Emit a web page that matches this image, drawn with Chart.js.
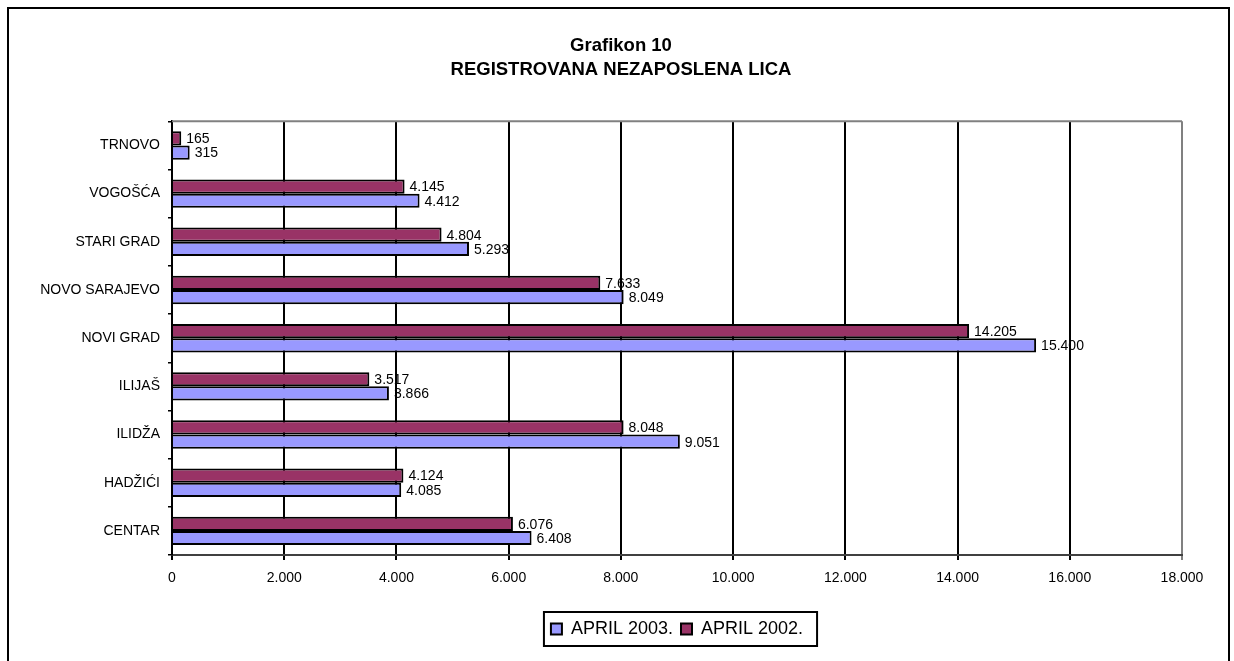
<!DOCTYPE html>
<html>
<head>
<meta charset="utf-8">
<script src="https://cdn.jsdelivr.net/npm/chart.js@4.4.1/dist/chart.umd.min.js"></script>
<style>
  html, body { margin: 0; padding: 0; background: #fff; }
  canvas { display: block; }
</style>
</head>
<body>
<canvas id="chart" width="1234" height="661"></canvas>
<script>
const municipalities = ["TRNOVO", "VOGOŠĆA", "STARI GRAD", "NOVO SARAJEVO", "NOVI GRAD", "ILIJAŠ", "ILIDŽA", "HADŽIĆI", "CENTAR"];
const april2002 = [165, 4145, 4804, 7633, 14205, 3517, 8048, 4124, 6076];
const april2003 = [315, 4412, 5293, 8049, 15400, 3866, 9051, 4085, 6408];
const titleLines = ["Grafikon 10", "REGISTROVANA NEZAPOSLENA LICA"];
const xMax = 18000;
const xStep = 2000;

const fmt = v => String(v).replace(/\B(?=(\d{3})+(?!\d))/g, ".");

Chart.defaults.font.family = "'Liberation Sans', Arial, sans-serif";
Chart.defaults.color = "#000";

// value written at the end of each bar
const valueLabels = {
  id: "valueLabels",
  afterDatasetsDraw(chart) {
    const ctx = chart.ctx;
    ctx.save();
    ctx.font = "14px 'Liberation Sans', Arial, sans-serif";
    ctx.fillStyle = "#000";
    ctx.textBaseline = "middle";
    chart.data.datasets.forEach((ds, i) => {
      chart.getDatasetMeta(i).data.forEach((bar, j) => {
        ctx.fillText(fmt(ds.data[j]), bar.x + 5, bar.y + 1);
      });
    });
    ctx.restore();
  }
};

// outer frame, top edge of the plot and the box round the legend
const framePlugin = {
  id: "frame",
  afterDraw(chart) {
    const ctx = chart.ctx;
    const area = chart.chartArea;
    ctx.save();
    ctx.lineWidth = 2;
    ctx.strokeStyle = "#000";
    ctx.strokeRect(8, 8, 1221, 700);
    ctx.strokeStyle = "#808080";
    ctx.beginPath();
    ctx.moveTo(area.left, area.top);
    ctx.lineTo(area.right, area.top);
    ctx.stroke();
    const boxes = chart.legend.legendHitBoxes;
    if (boxes.length) {
      const l = Math.min(...boxes.map(b => b.left)) - 7;
      const r = Math.max(...boxes.map(b => b.left + b.width)) + 14;
      const t = boxes[0].top - 8;
      const h = boxes[0].height + 16;
      ctx.strokeStyle = "#000";
      ctx.strokeRect(l, t, r - l, h);
    }
    ctx.restore();
  }
};

new Chart(document.getElementById("chart"), {
  type: "bar",
  data: {
    labels: municipalities,
    datasets: [
      { label: "APRIL 2002.", data: april2002, backgroundColor: "#993366", borderColor: "#000", borderWidth: 2 },
      { label: "APRIL 2003.", data: april2003, backgroundColor: "#9999FF", borderColor: "#000", borderWidth: 2 }
    ]
  },
  options: {
    indexAxis: "y",
    responsive: false,
    animation: false,
    categoryPercentage: 0.59,
    barPercentage: 1,
    layout: { padding: { left: 14, right: 6, top: 9, bottom: 13 } },
    scales: {
      x: {
        min: 0,
        max: xMax,
        ticks: { stepSize: xStep, callback: v => fmt(v), font: { size: 14 }, padding: 10, maxRotation: 0 },
        grid: { color: c => (c.tick && c.tick.value === xMax ? "#808080" : "#000"), lineWidth: 2, tickLength: 5 },
        border: { color: "#404040", width: 2 },
        afterFit: s => { s.height = 57; s.paddingRight = 52; }
      },
      y: {
        ticks: { font: { size: 14 }, padding: 8 },
        grid: { drawOnChartArea: false, color: "#000", lineWidth: 1.5, tickLength: 4 },
        border: { color: "#000", width: 2 },
        afterFit: s => { s.width = 158; }
      }
    },
    plugins: {
      title: {
        display: true,
        text: titleLines,
        color: "#000",
        font: { size: 18.5, weight: "bold", lineHeight: 1.28 },
        padding: { top: 25, bottom: 40 }
      },
      legend: {
        position: "bottom",
        fullSize: false,
        reverse: true,
        labels: { font: { size: 18 }, boxWidth: 11, boxHeight: 11, padding: 8, color: "#000" }
      },
      tooltip: { enabled: false }
    }
  },
  plugins: [valueLabels, framePlugin]
});
</script>
</body>
</html>
